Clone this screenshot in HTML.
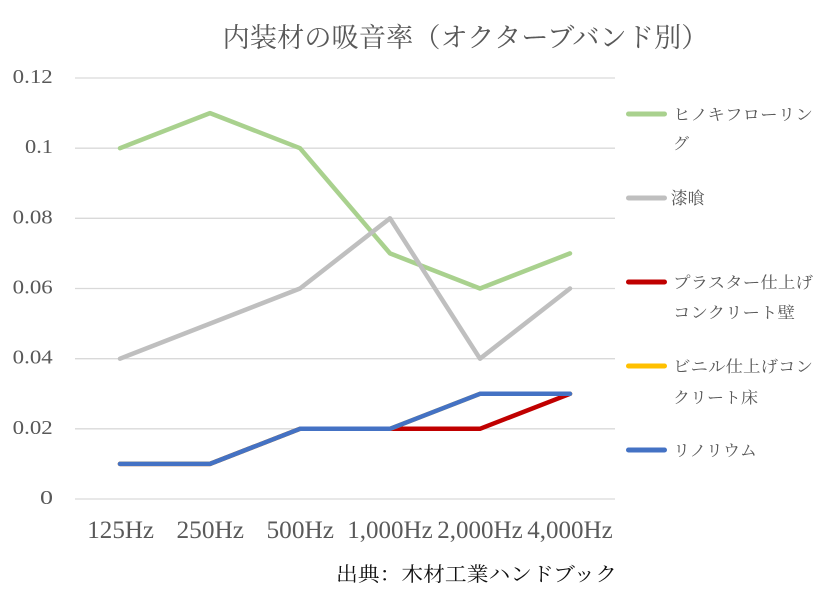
<!DOCTYPE html>
<html><head><meta charset="utf-8"><style>
html,body{margin:0;padding:0;background:#fff;}
svg{display:block;}
text{font-family:"Liberation Serif","Noto Serif CJK SC",serif;}
</style></head><body>
<svg width="831" height="590" viewBox="0 0 831 590" xmlns="http://www.w3.org/2000/svg">
<rect width="831" height="590" fill="#fff"/>
<text x="222.5" y="47" font-size="27" fill="#595959" textLength="486" lengthAdjust="spacingAndGlyphs">内装材の吸音率（オクターブバンド別）</text>
<g stroke="#D9D9D9" stroke-width="1.3">
<line x1="75" y1="78" x2="615" y2="78"/>
<line x1="75" y1="148.2" x2="615" y2="148.2"/>
<line x1="75" y1="218.3" x2="615" y2="218.3"/>
<line x1="75" y1="288.5" x2="615" y2="288.5"/>
<line x1="75" y1="358.7" x2="615" y2="358.7"/>
<line x1="75" y1="428.8" x2="615" y2="428.8"/>
<line x1="75" y1="499" x2="615" y2="499"/>
</g>
<g font-size="20" fill="#595959">
<text x="12.7" y="83" textLength="40" lengthAdjust="spacingAndGlyphs">0.12</text>
<text x="25" y="153.2" textLength="28" lengthAdjust="spacingAndGlyphs">0.1</text>
<text x="12.7" y="223.3" textLength="40" lengthAdjust="spacingAndGlyphs">0.08</text>
<text x="12.7" y="293.5" textLength="40" lengthAdjust="spacingAndGlyphs">0.06</text>
<text x="12.7" y="363.7" textLength="40" lengthAdjust="spacingAndGlyphs">0.04</text>
<text x="12.7" y="433.8" textLength="40" lengthAdjust="spacingAndGlyphs">0.02</text>
<text x="40" y="504" textLength="13" lengthAdjust="spacingAndGlyphs">0</text>
</g>
<g font-size="25" fill="#595959">
<text x="87.3" y="538" textLength="66.7" lengthAdjust="spacingAndGlyphs">125Hz</text>
<text x="176.5" y="538" textLength="67.5" lengthAdjust="spacingAndGlyphs">250Hz</text>
<text x="266.5" y="538" textLength="67.5" lengthAdjust="spacingAndGlyphs">500Hz</text>
<text x="347.3" y="538" textLength="85.4" lengthAdjust="spacingAndGlyphs">1,000Hz</text>
<text x="437.3" y="538" textLength="85.4" lengthAdjust="spacingAndGlyphs">2,000Hz</text>
<text x="527.3" y="538" textLength="85.4" lengthAdjust="spacingAndGlyphs">4,000Hz</text>
</g>
<g fill="none" stroke-width="4.5" stroke-linecap="round" stroke-linejoin="round">
<polyline stroke="#A9D18E" points="120,148.2 210,113.1 300,148.2 390,253.4 480,288.5 570,253.4"/>
<polyline stroke="#BFBFBF" points="120,358.7 210,323.6 300,288.5 390,218.3 480,358.7 570,288.5"/>
<polyline stroke="#C00000" points="120,463.9 210,463.9 300,428.8 390,428.8 480,428.8 570,393.8"/>
<polyline stroke="#FFC000" points="120,463.9 210,463.9 300,428.8 390,428.8 480,393.8 570,393.8"/>
<polyline stroke="#4472C4" points="120,463.9 210,463.9 300,428.8 390,428.8 480,393.8 570,393.8"/>
</g>
<g stroke-width="5" stroke-linecap="round">
<line x1="628.5" y1="114" x2="664.5" y2="114" stroke="#A9D18E"/>
<line x1="628.5" y1="198" x2="664.5" y2="198" stroke="#BFBFBF"/>
<line x1="628.5" y1="282" x2="664.5" y2="282" stroke="#C00000"/>
<line x1="628.5" y1="366" x2="664.5" y2="366" stroke="#FFC000"/>
<line x1="628.5" y1="450" x2="664.5" y2="450" stroke="#4472C4"/>
</g>
<g font-size="16" fill="#595959">
<text x="673" y="120" textLength="140" lengthAdjust="spacingAndGlyphs">ヒノキフローリン</text>
<text x="673" y="149">グ</text>
<text x="670.7" y="204" font-size="17" textLength="34" lengthAdjust="spacingAndGlyphs">漆喰</text>
<text x="673" y="288" textLength="140" lengthAdjust="spacingAndGlyphs">プラスター仕上げ</text>
<text x="673" y="318" textLength="122" lengthAdjust="spacingAndGlyphs">コンクリート壁</text>
<text x="673" y="372" textLength="140" lengthAdjust="spacingAndGlyphs">ビニル仕上げコン</text>
<text x="673" y="403" textLength="85" lengthAdjust="spacingAndGlyphs">クリート床</text>
<text x="673" y="456" textLength="84" lengthAdjust="spacingAndGlyphs">リノリウム</text>
</g>
<text x="336" y="581" font-size="20" fill="#111" textLength="281" lengthAdjust="spacingAndGlyphs">出典：木材工業ハンドブック</text>
</svg>
</body></html>
